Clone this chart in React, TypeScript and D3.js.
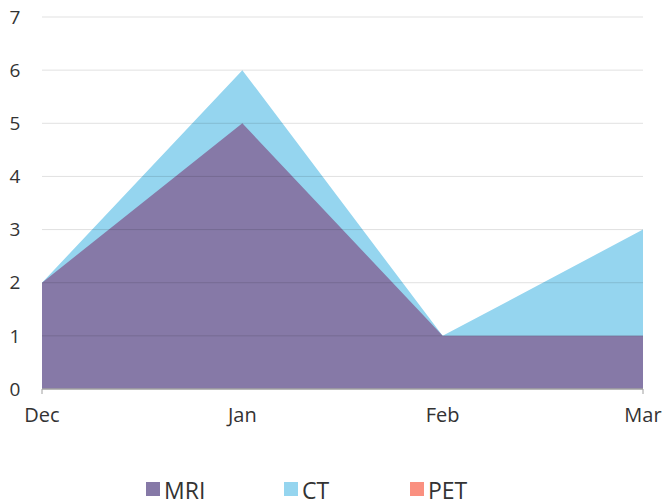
import * as d3 from "d3";

const months = ["Dec", "Jan", "Feb", "Mar"];
const mri = [2, 5, 1, 1];
const ct = [2, 6, 1, 3];
const pet = [0, 0, 0, 0];
const yTicks = [0, 1, 2, 3, 4, 5, 6, 7];

const series = [
  { name: "MRI", values: mri, color: "#8679a7" },
  { name: "CT", values: ct, color: "#95d5ef" },
  { name: "PET", values: pet, color: "#fa9080" },
];

const width = 663;
const height = 501;
const margin = { top: 17, right: 20, bottom: 112, left: 42 };
const font = "'Open Sans', 'DejaVu Sans', sans-serif";

export default function App() {
  const x = d3
    .scalePoint<string>()
    .domain(months)
    .range([margin.left, width - margin.right]);
  const y = d3
    .scaleLinear()
    .domain([0, 7])
    .range([height - margin.bottom, margin.top]);

  const area = (vals: number[]) =>
    d3
      .area<number>()
      .x((_, i) => x(months[i]) as number)
      .y0(y(0))
      .y1((d) => y(d))(vals) as string;

  // draw order: PET at back, then CT, MRI on top
  const drawOrder = [series[2], series[1], series[0]];
  const legendX = [146, 284, 410];

  return (
    <svg
      width={width}
      height={height}
      style={{ position: "absolute", left: 0, top: 0 }}
      fontFamily={font}
    >
      {drawOrder.map((s) => (
        <path key={s.name} d={area(s.values)} fill={s.color} />
      ))}
      {yTicks.map((t) => (
        <g key={t}>
          {t > 0 && (
            <line
              x1={margin.left}
              x2={width - margin.right}
              y1={y(t)}
              y2={y(t)}
              stroke="rgba(0,0,0,0.12)"
            />
          )}
          <text
            x={15}
            y={y(t)}
            dy="0.35em"
            textAnchor="middle"
            fontSize={19}
            fill="#333"
          >
            {t}
          </text>
        </g>
      ))}
      <line
        x1={margin.left}
        x2={width - margin.right}
        y1={y(0)}
        y2={y(0)}
        stroke="#a0a0a0"
        strokeWidth={1.5}
      />
      {months.map((m, i) => (
        <g key={m}>
          {(i === 0 || i === months.length - 1) && (
            <line
              x1={x(m)}
              x2={x(m)}
              y1={y(0)}
              y2={y(0) + 5}
              stroke="#a0a0a0"
            />
          )}
          <text
            x={x(m)}
            y={422}
            textAnchor="middle"
            fontSize={20}
            fill="#333"
          >
            {m}
          </text>
        </g>
      ))}
      {series.map((s, i) => (
        <g key={s.name}>
          <rect x={legendX[i]} y={482} width={14} height={14} fill={s.color} />
          <text x={legendX[i] + 18} y={499} fontSize={23} fill="#333">
            {s.name}
          </text>
        </g>
      ))}
    </svg>
  );
}
